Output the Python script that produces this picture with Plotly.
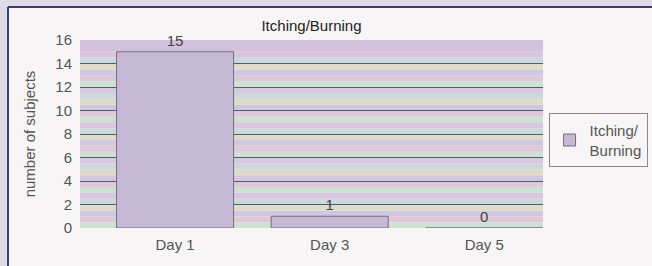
import plotly.graph_objects as go

categories = ["Day 1", "Day 3", "Day 5"]
values = [15, 1, 0]
series_name = "Itching/<br>Burning"
y_ticks = [0, 2, 4, 6, 8, 10, 12, 14, 16]

fig = go.Figure()
fig.add_trace(go.Bar(
    x=categories, y=values, name=series_name,
    width=0.757,
    marker=dict(color="#c6b9d5", line=dict(color="#6f6f78", width=1)),
    text=[str(v) for v in values], textposition="outside",
    textfont=dict(size=15, color="#444444", family="Liberation Sans, Arial"),
    cliponaxis=False, showlegend=True,
))

shapes = []
# white panel with dark top/left border
shapes.append(dict(type="rect", xref="paper", yref="paper", x0=-0.1555, x1=1.4, y0=-0.5, y1=1.1755,
                   fillcolor="#f8f5f7", line=dict(width=0), layer="below"))
shapes.append(dict(type="line", xref="paper", yref="paper", x0=-0.1555, x1=1.4, y0=1.1755, y1=1.1755,
                   line=dict(color="#3b3d78", width=2), layer="below"))
shapes.append(dict(type="line", xref="paper", yref="paper", x0=-0.1555, x1=-0.1555, y0=-0.5, y1=1.1755,
                   line=dict(color="#3b3d78", width=2), layer="below"))
# pastel striped plot background (print artefact)
stripe_colors = ["#cde0d3", "#dfc9d8", "#d0c7e2", "#dedbc9", "#cbd9df", "#d9c7df"]
h = 0.5
y0 = 0.0
i = 0
while y0 < 15.0:
    y1 = min(y0 + h, 15.0)
    shapes.append(dict(type="rect", xref="paper", yref="y", x0=0, x1=1, y0=y0, y1=y1,
                       fillcolor=stripe_colors[i % len(stripe_colors)], line=dict(width=0), layer="below"))
    y0 = y1
    i += 1
shapes.append(dict(type="rect", xref="paper", yref="y", x0=0, x1=1, y0=15, y1=16,
                   fillcolor="#d2c2de", line=dict(width=0), layer="below"))

fig.update_layout(
    width=652, height=266,
    margin=dict(l=80, r=109, t=40, b=38, autoexpand=False),
    paper_bgcolor="#dedae8",
    plot_bgcolor="#d6d0df",
    font=dict(family="Liberation Sans, Arial", color="#555555"),
    title=dict(text="Itching/Burning", x=0.5, xref="paper", xanchor="center",
               y=0.905, yref="container", yanchor="middle", automargin=False,
               font=dict(size=15, color="#222222")),
    shapes=shapes,
    legend=dict(x=1.012, y=0.468, xanchor="left", yanchor="middle",
                bgcolor="rgba(255,255,255,0)", bordercolor="#8a8a8a", borderwidth=1,
                font=dict(size=15, color="#555555"), itemwidth=30,
                tracegroupgap=0),
    xaxis=dict(range=[-0.615, 2.38], showgrid=False, showline=False, zeroline=False, automargin=False,
               tickfont=dict(size=15, color="#555555"), ticks="", ticklabelstandoff=6),
    yaxis=dict(range=[0, 16], tickvals=y_ticks, showgrid=True, gridcolor="#4f5d6c", gridwidth=1,
               zeroline=False, showline=False, automargin=False, tickfont=dict(size=15, color="#555555"),
               title=dict(text="number of subjects", font=dict(size=15, color="#555555"), standoff=16),
               ticks="", ticklabelstandoff=7),
)

fig.write_html("out.html", config={"displayModeBar": False},
               post_script="document.body.style.margin='0';document.body.style.overflow='hidden';")
